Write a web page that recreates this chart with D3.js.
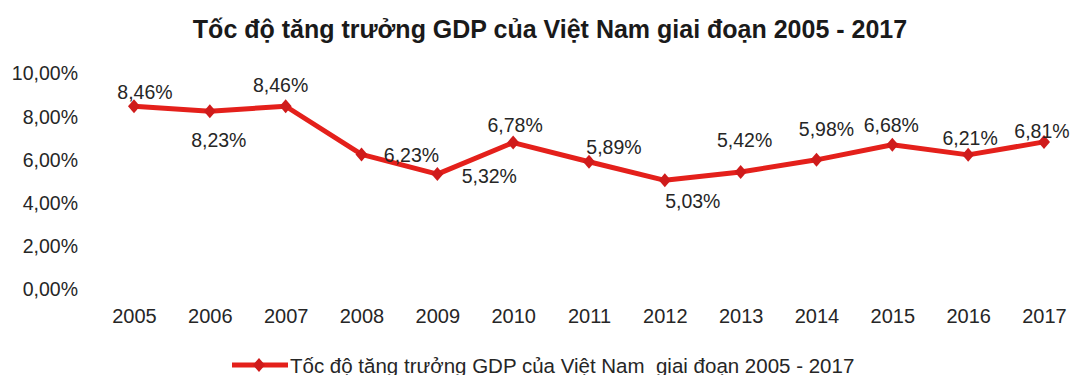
<!DOCTYPE html>
<html>
<head>
<meta charset="utf-8">
<script src="https://cdn.jsdelivr.net/npm/d3@7/dist/d3.min.js"></script>
<style>
  html, body { margin: 0; padding: 0; background: #ffffff; }
  svg { display: block; font-family: "Liberation Sans", Arial, sans-serif; }
</style>
</head>
<body>
<svg id="chart" width="1081" height="375"></svg>
<script>
// GDP growth rate of Vietnam, 2005–2017 (%)
const years = ["2005", "2006", "2007", "2008", "2009", "2010", "2011",
               "2012", "2013", "2014", "2015", "2016", "2017"];
const growth = [8.46, 8.23, 8.46, 6.23, 5.32, 6.78, 5.89,
                5.03, 5.42, 5.98, 6.68, 6.21, 6.81];
const yTicks = [0, 2, 4, 6, 8, 10];

const titleText = "Tốc độ tăng trưởng GDP của Việt Nam giai đoạn 2005 - 2017";
const seriesName = "Tốc độ tăng trưởng GDP của Việt Nam  giai đoạn 2005 - 2017";

// where each value label sits relative to its point: [dx, dy] of label centre
const labelOffsets = [
  [11, -14], [9, 29], [-5, -21], [50, 1], [52, 2], [2, -18], [25, -15],
  [28, 21], [4, -32], [10, -31], [-1, -20], [2, -17], [-2, -11]
];

const svg = d3.select("#chart");
const lineColor = "#e4201b";
const markerColor = "#cf1b1b";
const textColor = "#262626";

const x = d3.scalePoint().domain(years).range([134, 1044]);
const y = d3.scaleLinear().domain([0, 10]).range([289, 73]);

const fmt = v => d3.format(".2f")(v).replace(".", ",") + "%";

// title
svg.append("text")
  .attr("x", 550).attr("y", 38)
  .attr("text-anchor", "middle")
  .attr("font-size", 25).attr("font-weight", "bold")
  .attr("fill", "#1a1a1a")
  .text(titleText);

// y axis (labels only, no line or ticks)
const yAxis = d3.axisLeft(y).tickValues(yTicks).tickSize(0).tickPadding(0)
  .tickFormat(d => fmt(d));
const gy = svg.append("g").attr("transform", "translate(78,0)").call(yAxis);
gy.select(".domain").remove();
gy.selectAll("text")
  .attr("font-size", 19.5).attr("fill", textColor)
  .attr("font-family", "Liberation Sans, Arial, sans-serif")
  .attr("dy", "0.35em");

// x axis (labels only)
const xAxis = d3.axisBottom(x).tickSize(0).tickPadding(0);
const gx = svg.append("g").attr("transform", "translate(0,309)").call(xAxis);
gx.select(".domain").remove();
gx.selectAll("text")
  .attr("font-size", 20).attr("fill", textColor)
  .attr("font-family", "Liberation Sans, Arial, sans-serif")
  .attr("dy", "0.71em");

const pts = years.map((yr, i) => ({ year: yr, value: growth[i], off: labelOffsets[i] }));

// line
const line = d3.line().x(d => x(d.year)).y(d => y(d.value));
svg.append("path")
  .datum(pts)
  .attr("d", line)
  .attr("fill", "none")
  .attr("stroke", lineColor)
  .attr("stroke-width", 5)
  .attr("stroke-linejoin", "round");

// diamond markers
const diamond = (cx, cy, w, h) =>
  `M${cx},${cy - h / 2}L${cx + w / 2},${cy}L${cx},${cy + h / 2}L${cx - w / 2},${cy}Z`;
svg.append("g").selectAll("path")
  .data(pts).join("path")
  .attr("d", d => diamond(x(d.year), y(d.value), 12, 14))
  .attr("fill", markerColor);

// value labels
svg.append("g").selectAll("text")
  .data(pts).join("text")
  .attr("x", d => x(d.year) + d.off[0])
  .attr("y", d => y(d.value) + d.off[1])
  .attr("text-anchor", "middle")
  .attr("dominant-baseline", "central")
  .attr("font-size", 19.5)
  .attr("fill", textColor)
  .text(d => fmt(d.value));

// legend
const lg = svg.append("g").attr("transform", "translate(232,365)");
lg.append("line")
  .attr("x1", 0).attr("x2", 56).attr("y1", 0).attr("y2", 0)
  .attr("stroke", lineColor).attr("stroke-width", 5);
lg.append("path")
  .attr("d", diamond(27, 0, 12, 14))
  .attr("fill", markerColor);
lg.append("text")
  .attr("x", 58).attr("y", 0)
  .attr("dominant-baseline", "central")
  .attr("font-size", 20.5)
  .attr("fill", textColor)
  .style("white-space", "pre")
  .text(seriesName);
</script>
</body>
</html>
